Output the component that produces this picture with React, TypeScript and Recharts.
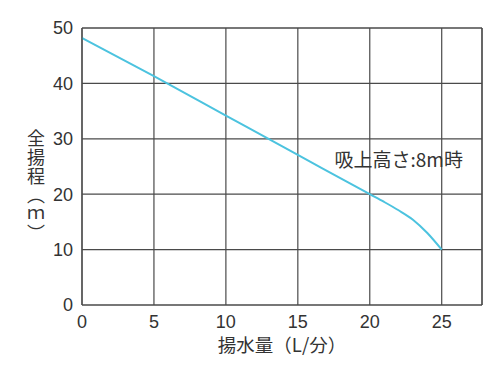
import { LineChart, Line, XAxis, YAxis, CartesianGrid, ReferenceLine, ReferenceDot } from 'recharts'

// 揚水量 (L/分) and 全揚程 (m)
const flow = [0, 5, 10, 15, 20, 21, 22, 23, 24, 25]
const head = [48.2, 41.3, 34.2, 27.1, 20, 18.6, 17.1, 15.4, 13.0, 10]

const xTicks = [0, 5, 10, 15, 20, 25]
const yTicks = [0, 10, 20, 30, 40, 50]

const yTitle = '全揚程（ｍ）'

const data = flow.map((q, i) => ({ q, h: head[i] }))

const FONT = '"Noto Sans CJK JP", "Noto Sans", sans-serif'
const NUM_FONT = '"Liberation Sans", Arial, sans-serif'
const GRID = '#4a4a4a'
const TEXT = '#333'

// vertical y title, written top to bottom
function YTitle() {
  return (
    <text
      x={36}
      y={129}
      fontSize={18}
      fill={TEXT}
      fontFamily={FONT}
      letterSpacing={1}
      style={{ writingMode: 'vertical-rl' }}
    >
      {yTitle}
    </text>
  )
}

export default function App() {
  return (
    <div style={{ width: 500, height: 371, background: '#fff', fontFamily: FONT }}>
      <style>{'body{margin:0}'}</style>
      <LineChart width={500} height={371} data={data} margin={{ top: 28, right: 18, bottom: 0, left: 0 }}>
        <CartesianGrid stroke={GRID} strokeWidth={1.2} />
        <XAxis
          dataKey="q"
          type="number"
          domain={[0, 27.8]}
          ticks={xTicks}
          height={66}
          tickLine={false}
          tickSize={8}
          axisLine={{ stroke: GRID, strokeWidth: 1.2 }}
          tick={{ fill: TEXT, fontSize: 18, fontFamily: NUM_FONT }}
          label={{ value: '揚水量（L/分）', position: 'insideTop', offset: 34, dx: 0, fill: TEXT, fontSize: 18.5, fontFamily: FONT }}
        />
        <YAxis
          type="number"
          domain={[0, 50]}
          ticks={yTicks}
          width={82}
          tickLine={false}
          tickMargin={3}
          axisLine={{ stroke: GRID, strokeWidth: 1.2 }}
          tick={{ fill: TEXT, fontSize: 18, fontFamily: NUM_FONT }}
          label={{ content: () => <YTitle /> }}
        />
        <ReferenceLine x={27.8} stroke={GRID} strokeWidth={1.2} />
        <ReferenceLine y={50} stroke={GRID} strokeWidth={1.2} />
        <ReferenceDot
          x={17.55}
          y={26.2}
          r={0}
          fill="none"
          stroke="none"
          label={{ value: '吸上高さ:8m時', position: 'right', offset: 0, fill: TEXT, fontSize: 19, fontFamily: FONT }}
        />
        <Line
          type="monotone"
          dataKey="h"
          stroke="#4cc3df"
          strokeWidth={2}
          dot={false}
          isAnimationActive={false}
        />
      </LineChart>
    </div>
  )
}
